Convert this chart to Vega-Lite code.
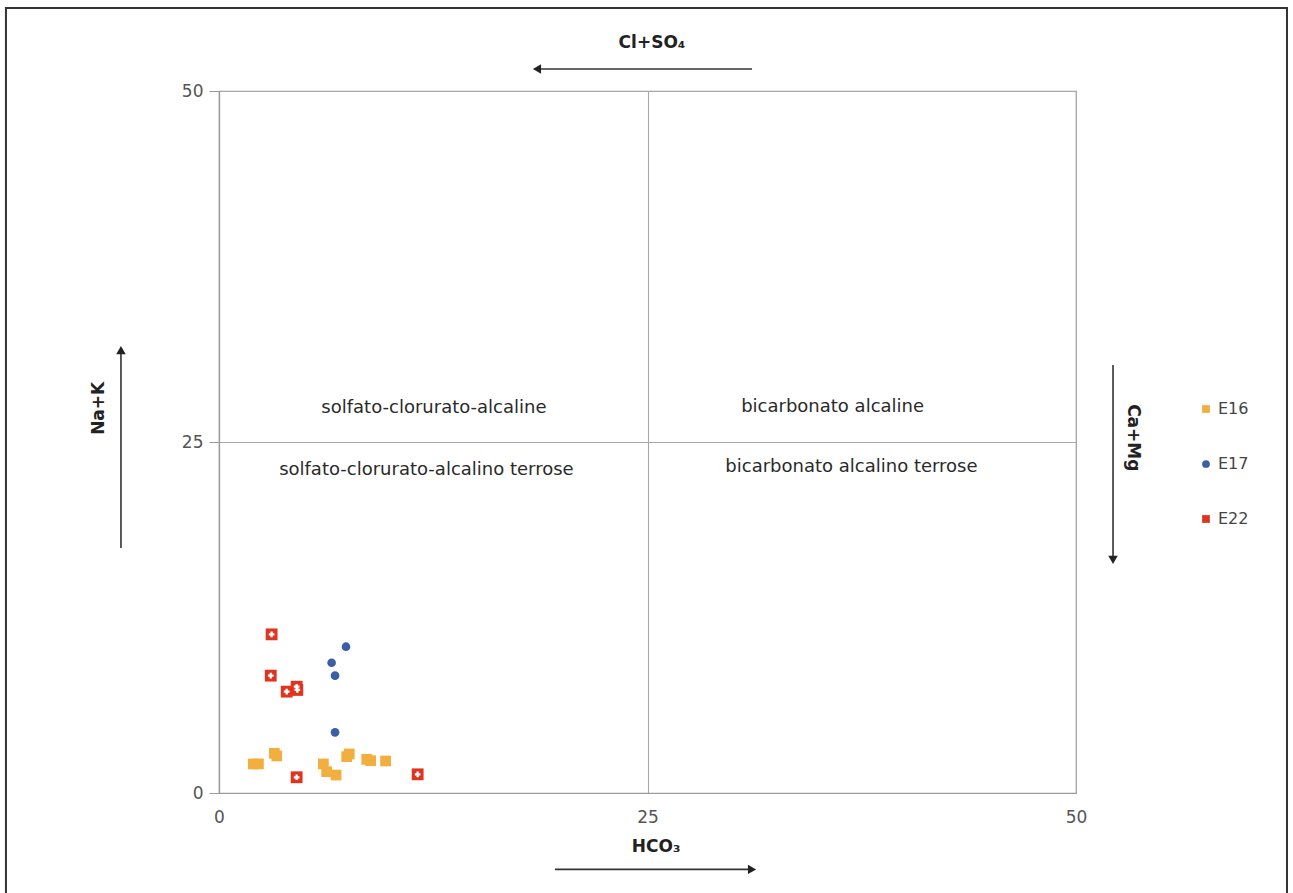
{
  "$schema": "https://vega.github.io/schema/vega-lite/v6.json",
  "autosize": "none",
  "width": 857,
  "height": 702,
  "padding": {"left": 219, "top": 91, "right": 217, "bottom": 100},
  "background": "white",
  "config": {
    "font": "DejaVu Sans",
    "view": {"stroke": "#9a9a9a", "strokeWidth": 1.2},
    "axis": {"labelFont": "DejaVu Sans", "labelFontSize": 17, "labelColor": "#555555", "domainColor": "#9a9a9a", "tickColor": "#9a9a9a", "gridColor": "#a8a8a8", "gridWidth": 1.1, "domainWidth": 1.2, "labelFlush": false}
  },
  "datasets": {
    "points": [
      {"series": "E16", "x": 2.0, "y": 2.07},
      {"series": "E16", "x": 2.3, "y": 2.07},
      {"series": "E16", "x": 3.23, "y": 2.83},
      {"series": "E16", "x": 3.37, "y": 2.64},
      {"series": "E16", "x": 6.09, "y": 2.07},
      {"series": "E16", "x": 6.28, "y": 1.52},
      {"series": "E16", "x": 6.83, "y": 1.28},
      {"series": "E16", "x": 7.45, "y": 2.59},
      {"series": "E16", "x": 7.6, "y": 2.78},
      {"series": "E16", "x": 8.62, "y": 2.4},
      {"series": "E16", "x": 8.85, "y": 2.3},
      {"series": "E16", "x": 9.72, "y": 2.28},
      {"series": "E17", "x": 7.41, "y": 10.42},
      {"series": "E17", "x": 6.57, "y": 9.28},
      {"series": "E17", "x": 6.77, "y": 8.36},
      {"series": "E17", "x": 6.77, "y": 4.32},
      {"series": "E22", "x": 3.07, "y": 11.3},
      {"series": "E22", "x": 3.02, "y": 8.36},
      {"series": "E22", "x": 3.95, "y": 7.22},
      {"series": "E22", "x": 4.53, "y": 7.57},
      {"series": "E22", "x": 4.57, "y": 7.34},
      {"series": "E22", "x": 4.53, "y": 1.12},
      {"series": "E22", "x": 11.59, "y": 1.33}
    ],
    "quadrants": [
      {"x": 12.54, "y": 27.42, "label": "solfato-clorurato-alcaline"},
      {"x": 12.1, "y": 23.0, "label": "solfato-clorurato-alcalino terrose"},
      {"x": 35.8, "y": 27.5, "label": "bicarbonato alcaline"},
      {"x": 36.9, "y": 23.2, "label": "bicarbonato alcalino terrose"}
    ],
    "arrows": [
      {"name": "top", "x1": 31.1, "y1": 51.57, "x2": 18.55, "y2": 51.57},
      {"name": "bottom", "x1": 19.6, "y1": -5.44, "x2": 31.1, "y2": -5.44},
      {"name": "left", "x1": -5.72, "y1": 17.45, "x2": -5.72, "y2": 31.55},
      {"name": "right", "x1": 52.16, "y1": 30.48, "x2": 52.16, "y2": 16.6}
    ],
    "titles": [
      {"name": "top", "x": 25.26, "y": 53.4, "label": "Cl+SO₄"},
      {"name": "bottom", "x": 25.5, "y": -3.85, "label": "HCO₃"},
      {"name": "left", "x": -7.0, "y": 27.4, "label": "Na+K"},
      {"name": "right", "x": 53.3, "y": 25.3, "label": "Ca+Mg"}
    ],
    "frame": [
      {"x1": -12.43, "x2": 62.31, "y1": 55.91, "y2": -7.3}
    ]
  },
  "layer": [
    {
      "data": {"name": "frame"},
      "mark": {"type": "rect", "fill": null, "stroke": "#333333", "strokeWidth": 2},
      "encoding": {
        "x": {"field": "x1", "type": "quantitative", "scale": {"domain": [0, 50], "nice": false, "zero": false},
              "axis": {"values": [0, 25, 50], "grid": true, "ticks": false, "labelPadding": 16, "title": null, "domain": true}},
        "x2": {"field": "x2"},
        "y": {"field": "y1", "type": "quantitative", "scale": {"domain": [0, 50], "nice": false, "zero": false},
              "axis": {"values": [0, 25, 50], "grid": true, "ticks": true, "tickSize": 10, "labelPadding": 6, "title": null}},
        "y2": {"field": "y2"}
      }
    },
    {
      "data": {"name": "points"},
      "transform": [{"filter": "datum.series === 'E16'"}],
      "mark": {"type": "point", "filled": true, "opacity": 1, "size": 115},
      "encoding": {
        "x": {"field": "x", "type": "quantitative"},
        "y": {"field": "y", "type": "quantitative"},
        "color": {"field": "series", "type": "nominal",
                  "scale": {"domain": ["E16", "E17", "E22"], "range": ["#F2AE3F", "#3B5EA6", "#DE3520"]},
                  "legend": {"title": null, "orient": "none", "legendX": 979, "legendY": 310, "labelFont": "DejaVu Sans", "labelFontSize": 16, "labelColor": "#444444", "symbolSize": 60, "rowPadding": 39, "labelOffset": 4, "symbolStrokeWidth": 0}},
        "shape": {"field": "series", "type": "nominal",
                  "scale": {"domain": ["E16", "E17", "E22"], "range": ["square", "circle", "square"]}}
      }
    },
    {
      "data": {"name": "points"},
      "transform": [{"filter": "datum.series === 'E17'"}],
      "mark": {"type": "point", "filled": true, "opacity": 1, "size": 75},
      "encoding": {
        "x": {"field": "x", "type": "quantitative"},
        "y": {"field": "y", "type": "quantitative"},
        "color": {"field": "series", "type": "nominal"},
        "shape": {"field": "series", "type": "nominal"}
      }
    },
    {
      "data": {"name": "points"},
      "transform": [{"filter": "datum.series === 'E22'"}],
      "mark": {"type": "point", "filled": true, "opacity": 1, "size": 140},
      "encoding": {
        "x": {"field": "x", "type": "quantitative"},
        "y": {"field": "y", "type": "quantitative"},
        "color": {"field": "series", "type": "nominal"},
        "shape": {"field": "series", "type": "nominal"}
      }
    },
    {
      "data": {"name": "points"},
      "transform": [{"filter": "datum.series === 'E22'"}],
      "mark": {"type": "point", "shape": "cross", "filled": true, "color": "white", "size": 32, "opacity": 1},
      "encoding": {
        "x": {"field": "x", "type": "quantitative"},
        "y": {"field": "y", "type": "quantitative"}
      }
    },
    {
      "data": {"name": "quadrants"},
      "mark": {"type": "text", "fontSize": 18, "color": "#2a2a2a", "font": "DejaVu Sans", "align": "center", "baseline": "middle"},
      "encoding": {
        "x": {"field": "x", "type": "quantitative"},
        "y": {"field": "y", "type": "quantitative"},
        "text": {"field": "label"}
      }
    },
    {
      "data": {"name": "arrows"},
      "mark": {"type": "rule", "color": "#333333", "strokeWidth": 1.6},
      "encoding": {
        "x": {"field": "x1", "type": "quantitative"},
        "y": {"field": "y1", "type": "quantitative"},
        "x2": {"field": "x2"},
        "y2": {"field": "y2"}
      }
    },
    {
      "data": {"name": "arrows"},
      "transform": [{"filter": "datum.name === 'top'"}],
      "mark": {"type": "point", "shape": "triangle-left", "filled": true, "color": "#222222", "size": 90, "opacity": 1},
      "encoding": {"x": {"field": "x2", "type": "quantitative"}, "y": {"field": "y2", "type": "quantitative"}}
    },
    {
      "data": {"name": "arrows"},
      "transform": [{"filter": "datum.name === 'bottom'"}],
      "mark": {"type": "point", "shape": "triangle-right", "filled": true, "color": "#222222", "size": 90, "opacity": 1},
      "encoding": {"x": {"field": "x2", "type": "quantitative"}, "y": {"field": "y2", "type": "quantitative"}}
    },
    {
      "data": {"name": "arrows"},
      "transform": [{"filter": "datum.name === 'left'"}],
      "mark": {"type": "point", "shape": "triangle-up", "filled": true, "color": "#222222", "size": 90, "opacity": 1},
      "encoding": {"x": {"field": "x2", "type": "quantitative"}, "y": {"field": "y2", "type": "quantitative"}}
    },
    {
      "data": {"name": "arrows"},
      "transform": [{"filter": "datum.name === 'right'"}],
      "mark": {"type": "point", "shape": "triangle-down", "filled": true, "color": "#222222", "size": 90, "opacity": 1},
      "encoding": {"x": {"field": "x2", "type": "quantitative"}, "y": {"field": "y2", "type": "quantitative"}}
    },
    {
      "data": {"name": "titles"},
      "transform": [{"filter": "datum.name === 'top' || datum.name === 'bottom'"}],
      "mark": {"type": "text", "fontSize": 17, "fontWeight": "bold", "color": "#222222", "font": "DejaVu Sans", "align": "center", "baseline": "middle"},
      "encoding": {"x": {"field": "x", "type": "quantitative"}, "y": {"field": "y", "type": "quantitative"}, "text": {"field": "label"}}
    },
    {
      "data": {"name": "titles"},
      "transform": [{"filter": "datum.name === 'left'"}],
      "mark": {"type": "text", "fontSize": 17, "fontWeight": "bold", "color": "#222222", "font": "DejaVu Sans", "align": "center", "baseline": "middle", "angle": 270},
      "encoding": {"x": {"field": "x", "type": "quantitative"}, "y": {"field": "y", "type": "quantitative"}, "text": {"field": "label"}}
    },
    {
      "data": {"name": "titles"},
      "transform": [{"filter": "datum.name === 'right'"}],
      "mark": {"type": "text", "fontSize": 17, "fontWeight": "bold", "color": "#222222", "font": "DejaVu Sans", "align": "center", "baseline": "middle", "angle": 90},
      "encoding": {"x": {"field": "x", "type": "quantitative"}, "y": {"field": "y", "type": "quantitative"}, "text": {"field": "label"}}
    }
  ]
}
